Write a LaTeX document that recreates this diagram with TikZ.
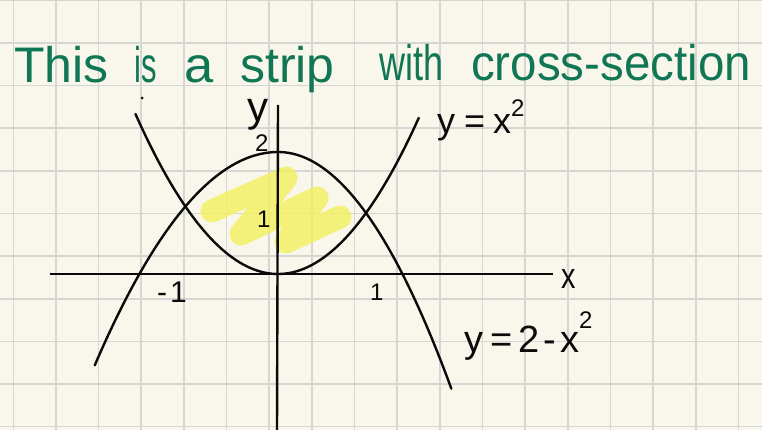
\documentclass[tikz,border=0pt]{standalone}
\usepackage{fontspec}
\setmainfont{Liberation Sans}
\usepackage{graphicx}
\definecolor{paper}{RGB}{249,247,236}
\definecolor{gridc}{RGB}{214,214,212}
\definecolor{ink}{RGB}{10,10,10}
\definecolor{pen}{RGB}{16,118,84}
\definecolor{hl}{RGB}{243,240,95}
\tikzset{
  curve/.style={ink, line width=2.4pt, line cap=round},
  axis/.style={ink, line width=2.4pt},
  lab/.style={ink, inner sep=0pt, anchor=base west},
  word/.style={pen, inner sep=0pt, anchor=base west, font=\fontsize{50}{50}\selectfont},
}
\begin{document}
\begin{tikzpicture}[x=1pt,y=-1pt]
\fill[paper] (0,0) rectangle (762,430);
\useasboundingbox (0,0) rectangle (762,430);
% grid
\foreach \k in {0,...,17} {\draw[gridc, line width=1.6pt] ({13.3+42.65*\k},0) -- ({13.3+42.65*\k},430);}
\foreach \k in {0,...,10} {\draw[gridc, line width=1.6pt] (0,{0.5+42.6*\k}) -- (762,{0.5+42.6*\k});}
% highlight
\draw[hl, opacity=0.8, line width=23pt, line cap=round, line join=round]
  (212,211) -- (286,178) -- (241,234) -- (317,198) -- (286,242) -- (340,217);
% axes
\coordinate (xl) at (50,274);
\coordinate (xr) at (553,274);
\coordinate (yt) at (278,105);
\coordinate (yb) at (277,430);
\draw[axis] (xl) -- (xr);
\draw[axis] (yt) -- (yb);
% curves
\draw[curve] plot[domain=-1.62:1.6, samples=80] ({278+88*\x},{274-61*\x*\x});
\draw[curve] plot[domain=-1.87:0, samples=60] ({278+98*\x},{274-61*(2-\x*\x)}) -- plot[domain=0:1.97, samples=60] ({278+88*\x},{274-61*(2-\x*\x)});
% dot
\fill[ink] (142,98) circle (1.5);
% title
\node[word] (w1) at (14,83) {This};
\node[word] (w2) at (134,83) {\scalebox{0.62}[1]{is}};
\node[word] (w3) at (184,83) {\scalebox{1.05}[1]{a}};
\node[word] (w4) at (240,83) {strip};
\node[word] (w5) at (379,81) {\scalebox{0.72}[1]{with}};
\node[word] (w6) at (471,81) {\scalebox{0.95}[1]{cross-section}};
% labels
\node[lab, font=\fontsize{42}{42}\selectfont] (ylab) at (247,122) {y};
\node[lab, font=\fontsize{24}{24}\selectfont] (two) at (255,152) {2};
\node[lab, font=\fontsize{24}{24}\selectfont] (oney) at (257,227) {1};
\node[lab, font=\fontsize{24}{24}\selectfont] (onex) at (370,300) {1};
\node[lab, font=\fontsize{30}{30}\selectfont] (mone) at (157,302) {-\hspace{3pt}1};
\node[lab, font=\fontsize{36}{36}\selectfont] (xlab) at (561,288) {\scalebox{0.8}[1]{x}};
\node[lab, font=\fontsize{36}{36}\selectfont] (f1) at (437,134)
  {y\hspace{9pt}=\hspace{8pt}x\raisebox{17pt}{\fontsize{24}{24}\selectfont 2}};
\node[lab, font=\fontsize{38}{38}\selectfont] (f2) at (464,352)
  {y\hspace{7pt}=\hspace{6pt}2\hspace{4pt}-\hspace{4pt}x\raisebox{24pt}{\fontsize{24}{24}\selectfont 2}};
\end{tikzpicture}
\end{document}
